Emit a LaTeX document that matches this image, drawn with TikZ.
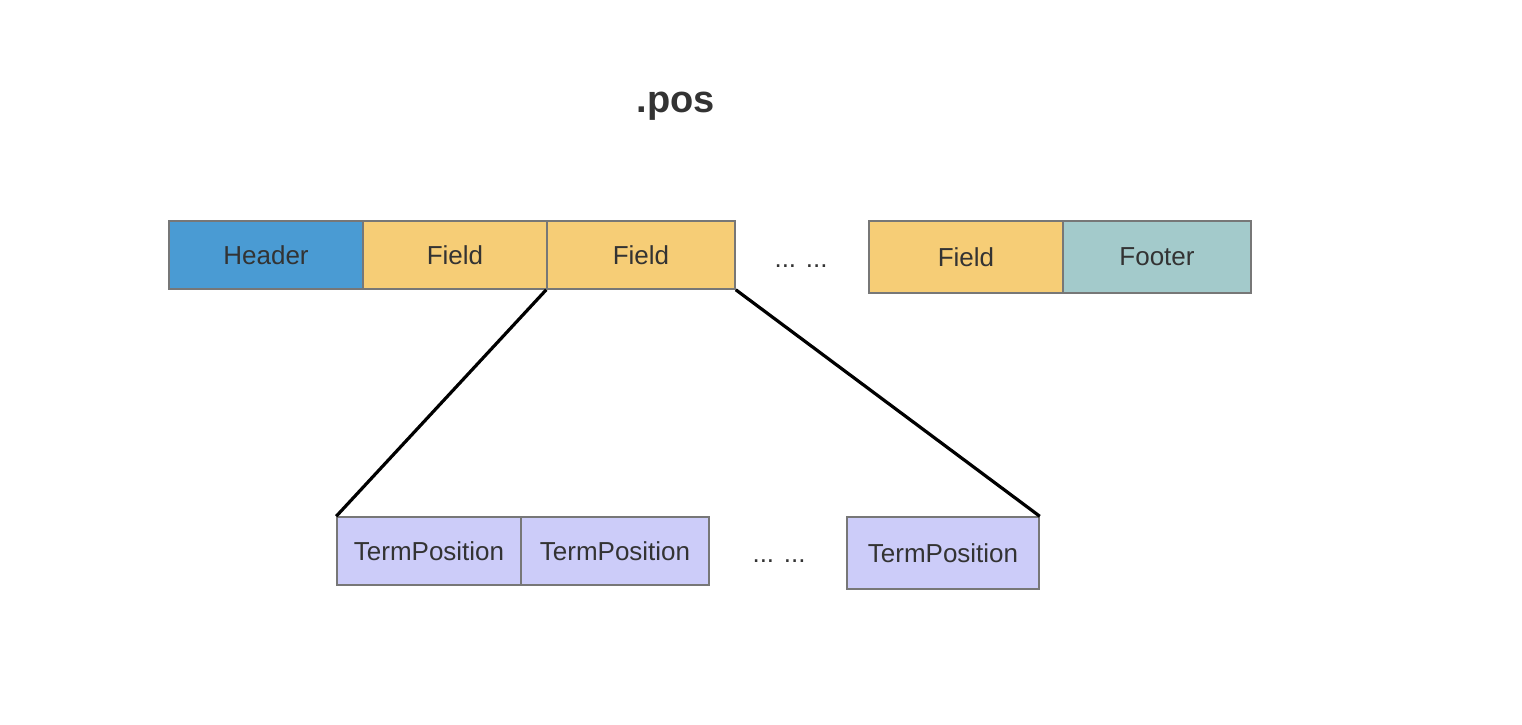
\documentclass[tikz,border=0pt]{standalone}
\usepackage{fontspec}
\setmainfont{Liberation Sans}
\definecolor{txt}{HTML}{333333}
\definecolor{bord}{HTML}{777777}
\definecolor{hdr}{HTML}{4A9BD3}
\definecolor{fld}{HTML}{F6CD76}
\definecolor{ftr}{HTML}{A3CACB}
\definecolor{tp}{HTML}{CCCCF9}
\begin{document}
\begin{tikzpicture}[x=1pt,y=-1pt,
  cell/.style={draw=bord,line width=1.5pt,inner sep=0pt,minimum height=68pt,text=txt,font=\fontsize{26}{30}\selectfont},
  dots/.style={text=txt,font=\fontsize{26}{30}\selectfont},
  link/.style={line width=3.2pt,black}]
\useasboundingbox (0,0) rectangle (1522,724);
\node[text=txt,font=\fontsize{38}{44}\selectfont\bfseries] (title) at (676,106) {.pos};
\node[cell,fill=hdr,minimum width=194pt] (header) at (266,255) {Header};
\node[cell,fill=fld,minimum width=184pt] (field1) at (455,255) {Field};
\node[cell,fill=fld,minimum width=188pt] (field2) at (641,255) {Field};
\node[dots] (dots1) at (801,266) {... ...};
\node[cell,fill=fld,minimum width=194pt,minimum height=72pt] (field3) at (966,257) {Field};
\node[cell,fill=ftr,minimum width=188pt,minimum height=72pt] (footer) at (1157,257) {Footer};
\node[cell,fill=tp,minimum width=184pt] (tp1) at (429,551) {TermPosition};
\node[cell,fill=tp,minimum width=188pt] (tp2) at (615,551) {TermPosition};
\node[dots] (dots2) at (779,561) {... ...};
\node[cell,fill=tp,minimum width=192pt,minimum height=72pt] (tp3) at (943,553) {TermPosition};
\draw[link] (field2.south west) -- (tp1.north west);
\draw[link] (field2.south east) -- (tp3.north east);
\end{tikzpicture}
\end{document}
